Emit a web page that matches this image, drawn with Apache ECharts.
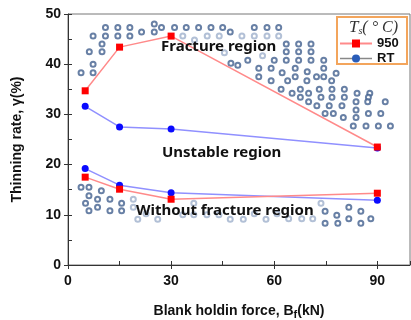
<!DOCTYPE html>
<html>
<head>
<meta charset="utf-8">
<script src="https://cdn.jsdelivr.net/npm/echarts@6/dist/echarts.min.js"></script>
<style>html,body{margin:0;padding:0;background:#fff}#c{width:411px;height:320px}</style>
</head>
<body>
<div id="c"></div>
<script>
// Blank holding force (kN) for measured points
const bf = [5, 15, 30, 90];
// Thinning rate (%) — upper (fracture limit) and lower (stable limit) curves
const upper950 = [34.7, 43.4, 45.6, 23.5];
const upperRT  = [31.6, 27.5, 27.1, 23.3];
const lower950 = [17.5, 15.1, 13.1, 14.3];
const lowerRT  = [19.2, 15.9, 14.4, 12.9];
// region marker dots [force, thinning]
const regionDots = [
  [3.8,38.3],[7.3,38.3],[7.3,40.0],[6.2,42.5],[9.9,42.5],[9.9,44.0],[7.3,45.6],[10.9,45.6],[14.5,45.6],[18.0,45.6],
  [10.9,47.3],[14.5,47.3],[18.0,47.3],[21.4,46.4],[25.1,48.0],[25.1,46.4],[27.2,47.3],[31.0,47.3],[34.4,47.3],[38.0,47.3],
  [41.6,47.3],[45.0,47.3],[47.2,46.4],[54.2,47.3],[57.9,47.3],[61.3,47.3],
  [63.5,44.0],[67.1,44.0],[70.7,44.0],[63.5,42.5],[67.1,42.5],[70.7,42.5],
  [47.4,40.2],[49.4,39.8],[52.3,40.8],[60.0,40.8],[63.5,40.8],[67.1,40.8],[70.7,40.8],[74.4,40.8],
  [55.5,39.2],[59.1,39.2],[62.3,38.3],[66.1,39.2],[69.6,38.5],[74.4,39.2],[78.0,38.2],
  [55.5,37.5],[59.1,36.7],[63.9,36.7],[66.1,37.5],[69.5,36.7],[72.3,37.5],[74.4,37.5],[76.7,36.7],
  [62.0,35.0],[65.2,34.2],[67.6,35.0],[70.0,34.2],[73.1,35.0],[76.8,35.0],[80.4,35.0],[84.1,34.2],[87.8,34.2],
  [67.6,33.4],[70.0,32.5],[73.6,33.4],[76.8,33.4],[80.4,33.4],[83.8,32.5],[87.4,33.4],[87.2,32.5],[92.3,32.5],
  [72.4,31.7],[76.0,31.7],[79.7,31.7],[83.8,30.9],
  [74.8,30.2],[77.2,30.2],[80.1,29.4],[83.8,29.4],[87.4,30.2],[91.0,30.2],
  [83.0,27.7],[86.7,27.7],[90.3,27.7],[93.8,27.7],
  [3.8,15.5],[6.1,15.5],[9.7,14.8],[6.1,13.8],[8.6,13.1],[12.2,13.1],[5.1,12.3],[8.6,11.5],[15.6,12.3],[6.1,10.8],[12.2,10.8],[15.6,10.8],
  [74.8,10.7],[74.8,8.3],[78.2,9.9],[78.5,8.3],[81.7,11.5],[81.7,9.2],[85.2,10.7],[85.2,8.3],[88.1,9.2]
];
const fadedDots = [
  [33.4,45.6],[36.8,44.8],[40.5,45.6],[44.0,45.6],[45.5,42.3],[50.6,45.6],[54.2,45.6],[57.9,45.6],[61.3,45.6],[56.6,41.7],
  [19.0,13.1],[19.0,11.5],[20.3,9.1],[22.7,10.2],[26.1,9.1],[33.4,10.0],[36.6,12.3],[36.6,10.0],[40.4,10.0],[43.9,10.0],
  [47.2,9.1],[51.0,9.1],[54.2,10.2],[57.6,9.1],[60.8,10.2],[64.2,9.2],[68.0,9.2],[71.2,9.2],[73.6,12.3]
];
const xTickStep = 30, xMinorStep = 15, yTickStep = 10, yMinorStep = 5;

const pair = (xs, ys) => xs.map((x, i) => [x, ys[i]]);
const chart = echarts.init(document.getElementById('c'), null, {renderer: 'canvas'});
const axisFont = {fontFamily: 'Liberation Sans', fontWeight: 'bold', fontSize: 14, color: '#111'};
const redLine = {color: '#ff8a8a', width: 1.5};
const blueLine = {color: '#9090ff', width: 1.5};

chart.setOption({
  animation: false,
  grid: {left: 68, right: 1, top: 14, bottom: 55, show: true, borderColor: '#777', borderWidth: 1,
    containLabel: false, outerBoundsMode: 'none'},
  xAxis: [{
    type: 'value', min: 0, max: 99.5, interval: xTickStep,
    axisLine: {lineStyle: {color: '#333'}},
    axisTick: {show: true, inside: false, length: 4, lineStyle: {color: '#333'}},
    axisLabel: Object.assign({showMaxLabel: false, margin: 9}, axisFont),
    splitLine: {show: false},
    name: 'Blank holdin force, B{s|f}(kN)', nameLocation: 'middle', nameGap: 37,
    nameTextStyle: {fontFamily: 'Liberation Sans', fontWeight: 'bold', fontSize: 14, color: '#111',
      rich: {s: {fontFamily: 'Liberation Sans', fontWeight: 'bold', fontSize: 11, padding: [7, 0, 0, 0], color: '#111'}}}
  }, {
    type: 'value', min: 0, max: 99.5, interval: xMinorStep, position: 'bottom',
    axisLine: {show: false}, axisLabel: {show: false}, splitLine: {show: false},
    axisTick: {show: true, inside: true, length: 4, lineStyle: {color: '#333'}}
  }],
  yAxis: [{
    type: 'value', min: 0, max: 50, interval: yTickStep,
    axisLine: {show: true, lineStyle: {color: '#333'}},
    axisTick: {show: true, inside: false, length: 4, lineStyle: {color: '#333'}},
    axisLabel: Object.assign({margin: 7}, axisFont),
    splitLine: {show: false},
    name: 'Thinning rate, γ(%)', nameLocation: 'middle', nameGap: 44,
    nameTextStyle: {fontFamily: 'Liberation Sans', fontWeight: 'bold', fontSize: 14, color: '#111'}
  }, {
    type: 'value', min: 0, max: 50, interval: yMinorStep, position: 'left',
    axisLine: {show: false}, axisLabel: {show: false}, splitLine: {show: false},
    axisTick: {show: true, inside: true, length: 4, lineStyle: {color: '#333'}}
  }],
  legend: {
    orient: 'vertical', left: 339, top: 37, itemWidth: 32, itemHeight: 10, itemGap: 2, padding: 0,
    textStyle: {fontFamily: 'Liberation Sans', fontWeight: 'bold', fontSize: 13, color: '#111'},
    data: [
      {name: '950'},
      {name: 'RT', lineStyle: {color: '#888', width: 1.5}, itemStyle: {color: '#2a5db8'}}
    ]
  },
  graphic: [
    {type: 'rect', left: 336, top: 16, shape: {width: 70, height: 47}, style: {fill: '#fff', stroke: '#f3a55c', lineWidth: 2}, z: 0},
    {type: 'text', left: 349, top: 19, z: 100, style: {
      text: '{t|T}{s|s}{p|( ° C)}',
      rich: {
        t: {fontFamily: 'Liberation Serif', fontStyle: 'italic', fontSize: 17, fill: '#333'},
        s: {fontFamily: 'Liberation Serif', fontStyle: 'italic', fontSize: 10, fill: '#333', padding: [8, 0, 0, 0]},
        p: {fontFamily: 'Liberation Serif', fontStyle: 'italic', fontSize: 16, fill: '#333'}
      }}},
    {type: 'text', left: 161, top: 39, z: 100, style: {text: 'Fracture region', font: 'bold 15px "Noto Sans"', fill: '#111'}},
    {type: 'text', left: 162, top: 145, z: 100, style: {text: 'Unstable region', font: 'bold 15px "Noto Sans"', fill: '#111'}},
    {type: 'text', left: 136, top: 203, z: 100, style: {text: 'Without fracture region', font: 'bold 15px "Noto Sans"', fill: '#111'}}
  ],
  series: [
    {type: 'scatter', data: regionDots, symbol: 'circle', symbolSize: 5, silent: true, z: 1,
      itemStyle: {color: '#fff', borderColor: '#42608f', borderWidth: 2}},
    {type: 'scatter', data: fadedDots, symbol: 'circle', symbolSize: 5, silent: true, z: 1,
      itemStyle: {color: '#fff', borderColor: '#9fb0cc', borderWidth: 2}},
    {name: 'RT', type: 'line', data: pair(bf, upperRT), symbol: 'circle', symbolSize: 7, z: 3,
      lineStyle: blueLine, itemStyle: {color: '#0a0aff'}},
    {name: 'RT', type: 'line', data: pair(bf, lowerRT), symbol: 'circle', symbolSize: 7, z: 3,
      lineStyle: blueLine, itemStyle: {color: '#0a0aff'}},
    {name: '950', type: 'line', data: pair(bf, upper950), symbol: 'rect', symbolSize: 7, z: 4,
      lineStyle: redLine, itemStyle: {color: '#ff0000'}},
    {name: '950', type: 'line', data: pair(bf, lower950), symbol: 'rect', symbolSize: 7, z: 4,
      lineStyle: redLine, itemStyle: {color: '#ff0000'}}
  ]
});
</script>
</body>
</html>
